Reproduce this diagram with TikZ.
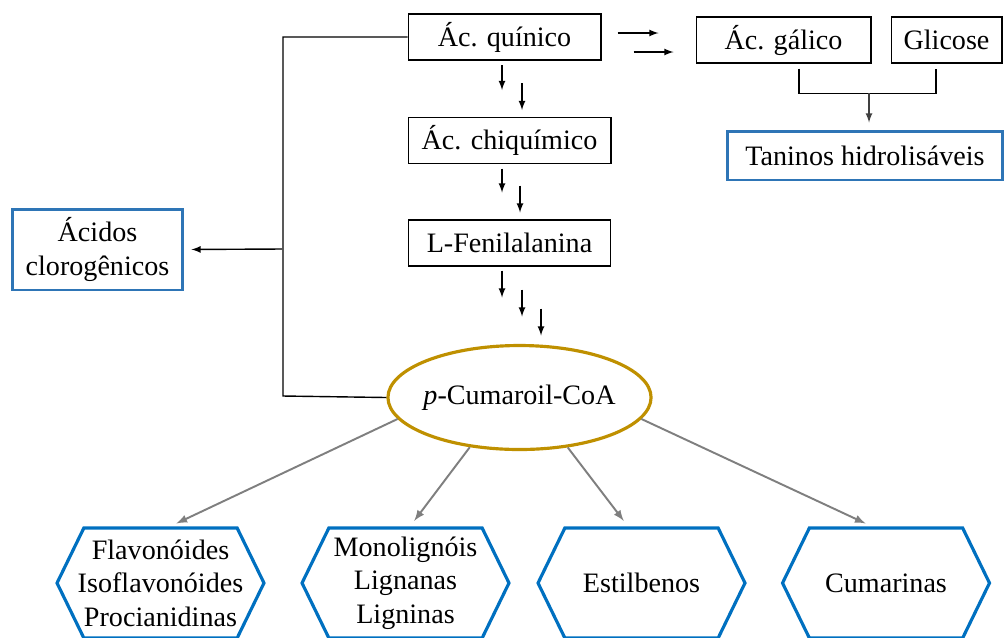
\documentclass[tikz,border=0pt]{standalone}
\usepackage{fontspec}
\setmainfont{Liberation Serif}
\usetikzlibrary{arrows}
\usetikzlibrary{shapes.geometric}
\usetikzlibrary{shapes.symbols}

\definecolor{azultanino}{RGB}{46,117,182}
\definecolor{azulclasse}{RGB}{0,112,192}
\definecolor{ouro}{RGB}{191,144,0}
\definecolor{cinza}{RGB}{127,127,127}

\begin{document}
\begin{tikzpicture}[x=0.02cm,y=-0.02cm,
                every node/.style={font=\fontsize{16}{19}\selectfont},
                caixa/.style={draw,line width=0.6pt,inner sep=0pt,minimum height=0.92cm},
                produto/.style={draw=azultanino,line width=1.7pt,inner sep=0pt,align=center},
                classe/.style={signal,signal to=west and east,signal pointer angle=128,draw=azulclasse,
                               line width=1.8pt,minimum width=4.14cm,minimum height=2.2cm,align=center,inner sep=0pt},
                seta/.style={-latex,line width=0.8pt},
                setacinza/.style={-latex,line width=1.1pt,cinza}
                ]
            \useasboundingbox (0,0) rectangle (1006,637);

            \node[caixa,minimum width=3.86cm] (quinico) at (504.5,37) {Ác. quínico};
            \node[caixa,minimum width=4.06cm] (chiquimico) at (509.5,140.5) {Ác. chiquímico};
            \node[caixa,minimum width=4.04cm] (fenil) at (509.5,243) {L-Fenilalanina};
            \node[caixa,minimum width=3.5cm] (galico) at (783.5,40) {Ác. gálico};
            \node[caixa,minimum width=2.22cm] (glicose) at (946.5,40) {Glicose};

            \node[produto,minimum width=5.52cm,minimum height=0.98cm] (taninos) at (865,155.5) {Taninos hidrolisáveis};
            \node[produto,minimum width=3.42cm,minimum height=1.62cm] (clorog) at (97.5,249.5) {Ácidos\\clorogênicos};

            \node[ellipse,draw=ouro,line width=1.8pt,minimum height=2.08cm,inner ysep=0pt,inner xsep=-0.06cm] (cumaroil) at (519.5,397.5) {\textit{p}-Cumaroil-CoA};

            \node[classe,inner xsep=-0.13cm] (flav) at (160.5,583) {Flavonóides\\Isoflavonóides\\Procianidinas};
            \node[classe] (monolig) at (405.5,583) {Monolignóis\\Lignanas\\Ligninas};
            \node[classe] (estilb) at (641.5,583) {Estilbenos};
            \node[classe] (cumar) at (886,583) {Cumarinas};

            % setas duplas e triplas da via
            \draw[seta] ([shift={(-2.5,4.5)}]quinico.south) -- ++(0,25);
            \draw[seta] ([shift={(17.5,22.5)}]quinico.south) -- ++(0,27);
            \draw[seta] ([shift={(-7.5,4.5)}]chiquimico.south) -- ++(0,24);
            \draw[seta] ([shift={(10.5,21.5)}]chiquimico.south) -- ++(0,27);
            \draw[seta] ([shift={(-7.5,4)}]fenil.south) -- ++(0,27);
            \draw[seta] ([shift={(12.5,23)}]fenil.south) -- ++(0,27);
            \draw[seta] ([shift={(31.5,42)}]fenil.south) -- ++(0,27);

            \draw[seta] ([shift={(16,-4)}]quinico.east) -- ++(41,0);
            \draw[seta] ([shift={(32,15)}]quinico.east) -- ++(40,0);

            % taninos
            \draw[line width=0.8pt] ([shift={(15.5,5)}]galico.south) -- ++(0,25) -| ([shift={(-10.5,5)}]glicose.south);
            \coordinate (juncao) at (869,93);
            \draw[seta,black!75,shorten >=0.14cm] (juncao) -- (juncao |- taninos.north);

            % acidos clorogenicos
            \draw[line width=0.8pt] (quinico.west) -| (283,396) -- (cumaroil.west);
            \coordinate (ramo) at (282,249);
            \draw[seta,shorten >=0.14cm] (ramo) -- (clorog.east);

            % classes
            \draw[setacinza,shorten >=0.14cm] (cumaroil.190) -- ([xshift=0.19cm]flav.north);
            \draw[setacinza,shorten >=0.14cm] (cumaroil.225) -- ([xshift=0.09cm]monolig.north);
            \draw[setacinza,shorten >=0.14cm] (cumaroil.314) -- ([xshift=-0.27cm]estilb.north);
            \draw[setacinza,shorten >=0.14cm] (cumaroil.350) -- ([xshift=-0.28cm]cumar.north);

            \end{tikzpicture}
\end{document}
